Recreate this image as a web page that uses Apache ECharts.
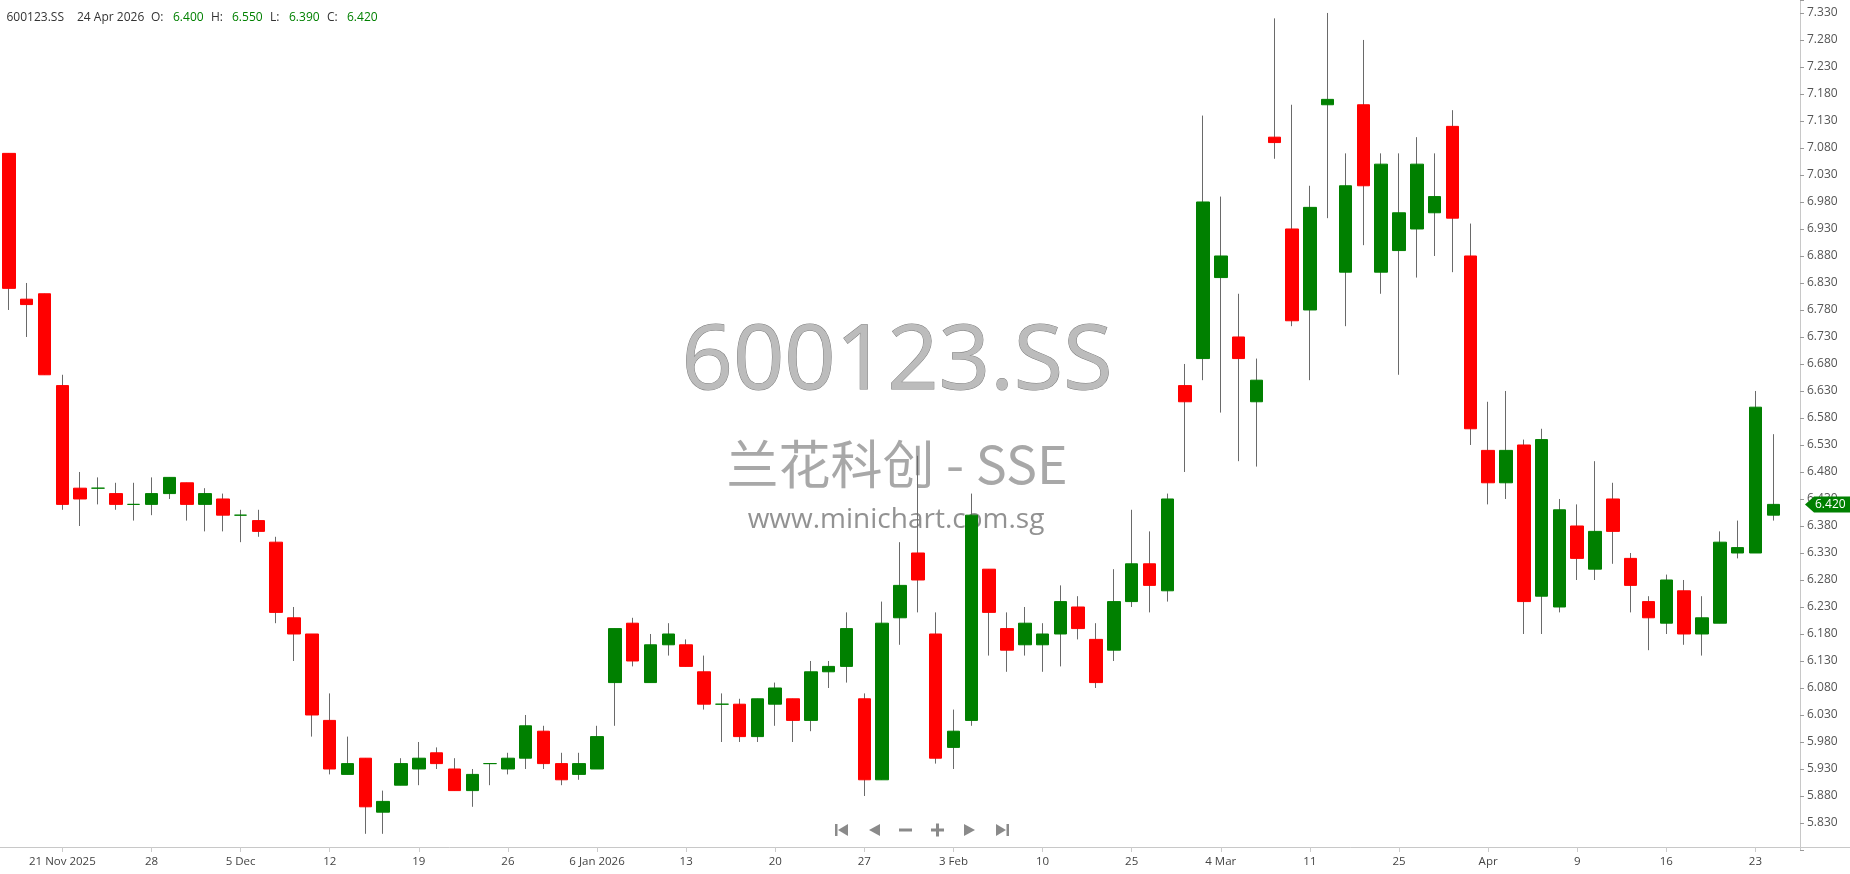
<!DOCTYPE html>
<html><head><meta charset="utf-8">
<script src="https://cdn.jsdelivr.net/npm/echarts@6/dist/echarts.min.js"></script>
<style>html,body{margin:0;padding:0;background:#fff}#c{width:1850px;height:874px}</style>
</head><body><div id="c"></div>
<script>
const symbol = '600123.SS';
const companyName = '兰花科创 - SSE';
const siteUrl = 'www.minichart.com.sg';

const dates = [
'2025-11-18','2025-11-19','2025-11-20','2025-11-21','2025-11-24','2025-11-25','2025-11-26','2025-11-27','2025-11-28',
'2025-12-01','2025-12-02','2025-12-03','2025-12-04','2025-12-05','2025-12-08','2025-12-09','2025-12-10','2025-12-11','2025-12-12',
'2025-12-15','2025-12-16','2025-12-17','2025-12-18','2025-12-19','2025-12-22','2025-12-23','2025-12-24','2025-12-25','2025-12-26',
'2025-12-29','2025-12-30','2025-12-31','2026-01-05','2026-01-06','2026-01-07','2026-01-08','2026-01-09','2026-01-12','2026-01-13',
'2026-01-14','2026-01-15','2026-01-16','2026-01-19','2026-01-20','2026-01-21','2026-01-22','2026-01-23','2026-01-26','2026-01-27',
'2026-01-28','2026-01-29','2026-01-30','2026-02-02','2026-02-03','2026-02-04','2026-02-05','2026-02-06','2026-02-09','2026-02-10',
'2026-02-11','2026-02-12','2026-02-13','2026-02-24','2026-02-25','2026-02-26','2026-02-27','2026-03-02','2026-03-03','2026-03-04',
'2026-03-05','2026-03-06','2026-03-09','2026-03-10','2026-03-11','2026-03-19','2026-03-20','2026-03-23','2026-03-24','2026-03-25',
'2026-03-26','2026-03-27','2026-03-30','2026-03-31','2026-04-01','2026-04-02','2026-04-03','2026-04-07','2026-04-08','2026-04-09',
'2026-04-10','2026-04-13','2026-04-14','2026-04-15','2026-04-16','2026-04-17','2026-04-20','2026-04-21','2026-04-22','2026-04-23',
'2026-04-24'];

const opens = [
7.07,6.80,6.81,6.64,6.45,6.45,6.44,6.42,6.42,6.44,
6.46,6.42,6.43,6.40,6.39,6.35,6.21,6.18,6.02,5.92,
5.95,5.85,5.90,5.93,5.96,5.93,5.89,5.94,5.93,5.95,
6.00,5.94,5.92,5.93,6.09,6.20,6.09,6.16,6.16,6.11,
6.05,6.05,5.99,6.05,6.06,6.02,6.11,6.12,6.06,5.91,
6.21,6.33,6.18,5.97,6.02,6.30,6.19,6.16,6.16,6.18,
6.23,6.17,6.15,6.24,6.31,6.26,6.64,6.69,6.84,6.73,
6.61,7.10,6.93,6.78,7.16,6.85,7.16,6.85,6.89,6.93,
6.96,7.12,6.88,6.52,6.46,6.53,6.25,6.23,6.38,6.30,
6.43,6.32,6.24,6.20,6.26,6.18,6.20,6.33,6.33,6.40];
const highs = [
7.07,6.83,6.81,6.66,6.48,6.47,6.46,6.46,6.47,6.47,
6.46,6.45,6.44,6.41,6.41,6.36,6.23,6.18,6.07,5.99,
5.95,5.89,5.95,5.98,5.97,5.95,5.93,5.94,5.96,6.03,
6.01,5.96,5.96,6.01,6.19,6.21,6.18,6.20,6.17,6.14,
6.07,6.06,6.06,6.09,6.06,6.13,6.13,6.22,6.07,6.24,
6.35,6.51,6.22,6.04,6.44,6.30,6.22,6.23,6.20,6.27,
6.25,6.20,6.30,6.41,6.37,6.44,6.68,7.14,6.99,6.81,
6.69,7.32,7.16,7.01,7.33,7.07,7.28,7.07,7.07,7.10,
7.07,7.15,6.94,6.61,6.63,6.54,6.56,6.43,6.42,6.50,
6.46,6.33,6.25,6.29,6.28,6.25,6.37,6.39,6.63,6.55];
const lows = [
6.78,6.73,6.66,6.41,6.38,6.42,6.41,6.39,6.40,6.43,
6.39,6.37,6.37,6.35,6.36,6.20,6.13,5.99,5.92,5.92,
5.81,5.81,5.90,5.90,5.93,5.89,5.86,5.90,5.92,5.93,
5.93,5.90,5.91,5.93,6.01,6.12,6.09,6.14,6.12,6.04,
5.98,5.98,5.98,6.01,5.98,6.00,6.08,6.09,5.88,5.91,
6.16,6.22,5.94,5.93,6.01,6.14,6.11,6.14,6.11,6.12,
6.17,6.08,6.13,6.23,6.22,6.24,6.48,6.65,6.59,6.50,
6.49,7.06,6.75,6.65,6.95,6.75,6.90,6.81,6.66,6.84,
6.88,6.85,6.53,6.42,6.43,6.18,6.18,6.22,6.28,6.28,
6.31,6.22,6.15,6.18,6.16,6.14,6.20,6.32,6.33,6.39];
const closes = [
6.82,6.79,6.66,6.42,6.43,6.45,6.42,6.42,6.44,6.47,
6.42,6.44,6.40,6.40,6.37,6.22,6.18,6.03,5.93,5.94,
5.86,5.87,5.94,5.95,5.94,5.89,5.92,5.94,5.95,6.01,
5.94,5.91,5.94,5.99,6.19,6.13,6.16,6.18,6.12,6.05,
6.05,5.99,6.06,6.08,6.02,6.11,6.12,6.19,5.91,6.20,
6.27,6.28,5.95,6.00,6.40,6.22,6.15,6.20,6.18,6.24,
6.19,6.09,6.24,6.31,6.27,6.43,6.61,6.98,6.88,6.69,
6.65,7.09,6.76,6.97,7.17,7.01,7.01,7.05,6.96,7.05,
6.99,6.95,6.56,6.46,6.52,6.24,6.54,6.41,6.32,6.37,
6.37,6.27,6.21,6.28,6.18,6.21,6.35,6.34,6.60,6.42];

const tickLabels = ['21 Nov 2025','28','5 Dec','12','19','26','6 Jan 2026','13','20','27',
                    '3 Feb','10','25','4 Mar','11','25','Apr','9','16','23'];
const firstTickIndex = 3, tickStep = 5;
const yMin = 5.78, yMax = 7.354, yStep = 0.05, yFirstLabel = 5.83;
const monthNames = ['Jan','Feb','Mar','Apr','May','Jun','Jul','Aug','Sep','Oct','Nov','Dec'];

const UP = '#008000', DOWN = '#ff0000', WICK = '#6a6a6a';
const FONT = '"Open Sans", "DejaVu Sans", sans-serif';

const chart = echarts.init(document.getElementById('c'), null, {renderer: 'canvas'});

const wickData = dates.map((d, i) => [opens[i], closes[i], lows[i], highs[i]]);
const bodyData = dates.map((d, i) => [opens[i], closes[i], Math.min(opens[i], closes[i]), Math.max(opens[i], closes[i])]);
const isTick = (i) => i >= firstTickIndex && i < dates.length && (i - firstTickIndex) % tickStep === 0;
const isYLabel = (v) => { const k = (v - yFirstLabel) / yStep; return k > -0.5 && Math.abs(k - Math.round(k)) < 1e-6; };

chart.setOption({
  animation: false,
  backgroundColor: '#ffffff',
  grid: {left: 0, right: 50, top: 0, bottom: 24, containLabel: false},
  xAxis: {
    type: 'category', data: dates.concat(['']), boundaryGap: true, offset: -3,
    axisLine: {show: true, lineStyle: {color: '#c8c8c8', width: 1}},
    axisTick: {show: true, alignWithLabel: true, interval: (i) => isTick(i), length: 5, lineStyle: {color: '#cccccc'}},
    axisLabel: {interval: (i) => isTick(i), formatter: (v, i) => isTick(i) ? tickLabels[(i - firstTickIndex) / tickStep] : '',
      color: '#444', fontFamily: FONT, fontSize: 11.5, margin: 9},
    splitLine: {show: false}
  },
  yAxis: {
    type: 'value', position: 'right', min: yMin, max: yMax, interval: yStep, scale: true,
    axisLine: {show: true, lineStyle: {color: '#c8c8c8'}},
    axisTick: {show: true, length: 4, lineStyle: {color: '#999'}},
    axisLabel: {margin: 7, color: '#555', fontFamily: FONT, fontSize: 12,
      formatter: (v) => isYLabel(v) ? v.toFixed(3) : '', showMinLabel: true, showMaxLabel: true},
    splitLine: {show: false}
  },
  series: [
    {type: 'candlestick', name: 'wick', data: wickData, barWidth: 1, silent: true, z: 3,
     itemStyle: {color: WICK, color0: WICK, borderColor: WICK, borderColor0: WICK, borderColorDoji: WICK, borderWidth: 1}},
    {type: 'candlestick', name: symbol, data: bodyData, barWidth: 13, z: 4,
     itemStyle: {color: UP, color0: DOWN, borderColor: UP, borderColor0: DOWN, borderColorDoji: UP, borderWidth: 1}}
  ]
});

// graphics (header, watermark, price tag, navigation)
const n = dates.length - 1;
const dParts = dates[n].split('-').map(Number);
const dateStr = dParts[2] + ' ' + monthNames[dParts[1] - 1] + ' ' + dParts[0];
const valColor = closes[n] >= opens[n] ? UP : DOWN;
const hdrFont = '12px ' + FONT;
const hdr = [
  [symbol, 6.5, '#333'], [dateStr, 77, '#333'],
  ['O:', 151, '#333'], [opens[n].toFixed(3), 173, valColor],
  ['H:', 211, '#333'], [highs[n].toFixed(3), 232, valColor],
  ['L:', 270, '#333'], [lows[n].toFixed(3), 289, valColor],
  ['C:', 327, '#333'], [closes[n].toFixed(3), 347, valColor]
];
const g = [];
hdr.forEach(h => g.push({type: 'text', z: 20, style: {text: h[0], x: h[1], y: 18, fill: h[2], font: hdrFont, textVerticalAlign: 'middle'}}));

// watermark
g.push({type: 'text', z: 0, silent: true, style: {text: symbol, x: 897, y: 363, fill: '#bcbcbc', stroke: '#808080', lineWidth: 1,
  font: '90px ' + FONT, textAlign: 'center', textVerticalAlign: 'middle'}});
g.push({type: 'text', z: 0, silent: true, style: {text: companyName, x: 897, y: 464, fill: '#a8a8a8',
  font: '52px "Noto Sans CJK SC", sans-serif', textAlign: 'center', textVerticalAlign: 'middle'}});
g.push({type: 'text', z: 0, silent: true, style: {text: siteUrl, x: 896, y: 520, fill: '#929292',
  font: '28px ' + FONT, textAlign: 'center', textVerticalAlign: 'middle'}});

// x axis line extends under the price axis
g.push({type: 'line', z: 5, silent: true, shape: {x1: 1800, y1: 847.5, x2: 1850, y2: 847.5}, style: {stroke: '#c8c8c8', lineWidth: 1}});

// last-price tag
const ty = chart.convertToPixel({yAxisIndex: 0}, closes[n]);
g.push({type: 'polygon', z: 20, shape: {points: [[1805, ty], [1814, ty - 8], [1850, ty - 8], [1850, ty + 8], [1814, ty + 8]]}, style: {fill: valColor}});
g.push({type: 'text', z: 21, style: {text: closes[n].toFixed(3), x: 1815, y: ty, fill: '#fff', font: '12px ' + FONT, textVerticalAlign: 'middle'}});

// navigation buttons
const NAV = '#8a8a8a';
const cy = 830;
g.push({type: 'rect', z: 20, shape: {x: 835, y: cy - 6, width: 2.5, height: 12}, style: {fill: NAV}});
g.push({type: 'polygon', z: 20, shape: {points: [[848, cy - 6], [848, cy + 6], [838, cy]]}, style: {fill: NAV}});
g.push({type: 'polygon', z: 20, shape: {points: [[880, cy - 6], [880, cy + 6], [869, cy]]}, style: {fill: NAV}});
g.push({type: 'rect', z: 20, shape: {x: 899, y: cy - 1.5, width: 13, height: 3}, style: {fill: NAV}});
g.push({type: 'rect', z: 20, shape: {x: 931, y: cy - 1.5, width: 13, height: 3}, style: {fill: NAV}});
g.push({type: 'rect', z: 20, shape: {x: 936, y: cy - 6.5, width: 3, height: 13}, style: {fill: NAV}});
g.push({type: 'polygon', z: 20, shape: {points: [[964, cy - 6], [964, cy + 6], [975, cy]]}, style: {fill: NAV}});
g.push({type: 'polygon', z: 20, shape: {points: [[996, cy - 6], [996, cy + 6], [1006, cy]]}, style: {fill: NAV}});
g.push({type: 'rect', z: 20, shape: {x: 1006.5, y: cy - 6, width: 2.5, height: 12}, style: {fill: NAV}});

chart.setOption({graphic: {elements: g}});
</script>
</body></html>
